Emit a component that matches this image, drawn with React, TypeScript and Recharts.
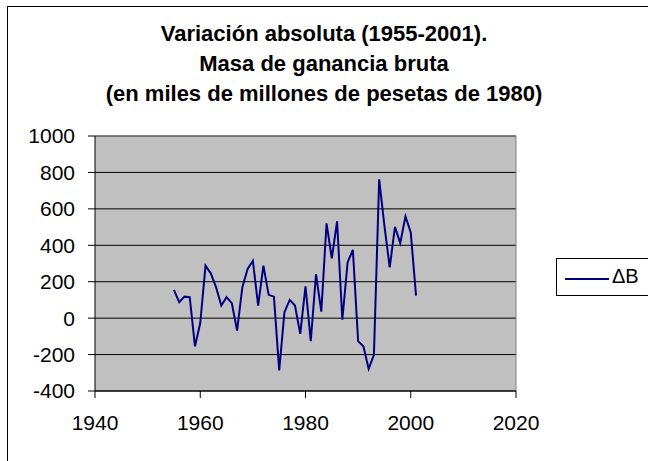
import { LineChart, Line, XAxis, YAxis, CartesianGrid, ReferenceLine } from "recharts"

const years = [
  1955, 1956, 1957, 1958, 1959, 1960, 1961, 1962, 1963, 1964, 1965, 1966, 1967, 1968, 1969, 1970,
  1971, 1972, 1973, 1974, 1975, 1976, 1977, 1978, 1979, 1980, 1981, 1982, 1983, 1984, 1985, 1986,
  1987, 1988, 1989, 1990, 1991, 1992, 1993, 1994, 1995, 1996, 1997, 1998, 1999, 2000, 2001,
]
const deltaB = [
  155, 88, 118, 115, -155, -27, 288, 246, 170, 69, 115, 82, -68, 170, 270, 315,
  69, 288, 128, 118, -287, 33, 100, 69, -86, 175, -126, 242, 36, 520, 328, 531,
  -9, 306, 375, -126, -155, -278, -201, 762, 507, 279, 501, 412, 558, 471, 124,
]
const xTicks = [1940, 1960, 1980, 2000, 2020]
const yTicks = [-400, -200, 0, 200, 400, 600, 800, 1000]
const titleLines = [
  "Variación absoluta (1955-2001).",
  "Masa de ganancia bruta",
  "(en miles de millones de pesetas de 1980)",
]
const seriesName = "ΔB"

const data = years.map((y, i) => ({ year: y, v: deltaB[i] }))

const FONT = '"Liberation Sans", Arial, sans-serif'
const tick = { fill: "#000", fontSize: 21, fontFamily: FONT }

export default function App() {
  return (
    <div style={{ position: "absolute", left: 0, top: 0, width: 648, height: 461, overflow: "hidden", background: "#fff" }}>
      {/* chart border, right/bottom edges fall outside the picture */}
      <div style={{ position: "absolute", left: 7, top: 6, width: 700, height: 500, border: "1px solid #000" }} />
      <div
        style={{
          position: "absolute",
          left: 0,
          top: 19,
          width: 648,
          textAlign: "center",
          fontFamily: FONT,
          fontWeight: "bold",
          fontSize: 22,
          lineHeight: "30px",
          color: "#000",
        }}
      >
        {titleLines.map((t) => (
          <div key={t}>{t}</div>
        ))}
      </div>
      <div style={{ position: "absolute", left: 0, top: 0 }}>
        <LineChart width={648} height={461} data={data} margin={{ top: 136, right: 132, left: 15, bottom: 30 }}>
          <CartesianGrid fill="#C0C0C0" stroke="#000" vertical={false} />
          <XAxis
            dataKey="year"
            type="number"
            domain={[1940, 2020]}
            ticks={xTicks}
            tick={tick}
            tickSize={7}
            tickMargin={17}
            height={40}
            axisLine={{ stroke: "#000" }}
            tickLine={{ stroke: "#000" }}
          />
          <YAxis
            type="number"
            domain={[-400, 1000]}
            ticks={yTicks}
            tick={tick}
            tickSize={7}
            tickMargin={13}
            width={80}
            axisLine={{ stroke: "#000" }}
            tickLine={{ stroke: "#000" }}
          />
          <ReferenceLine y={1000} stroke="#808080" />
          <ReferenceLine x={2020} stroke="#808080" />
          <Line type="linear" dataKey="v" stroke="#000080" strokeWidth={2} dot={false} isAnimationActive={false} />
        </LineChart>
      </div>
      <div
        style={{
          position: "absolute",
          left: 556,
          top: 258,
          width: 100,
          height: 36,
          border: "1px solid #000",
          background: "#fff",
          fontFamily: FONT,
          fontSize: 20,
        }}
      >
        <div style={{ position: "absolute", left: 8, top: 19, width: 44, height: 2, background: "#000080" }} />
        <div style={{ position: "absolute", left: 55, top: 6, lineHeight: "23px" }}>{seriesName}</div>
      </div>
    </div>
  )
}
